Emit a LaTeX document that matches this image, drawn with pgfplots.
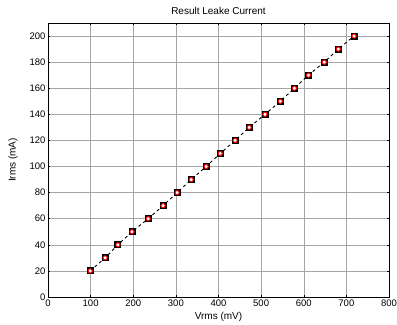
\documentclass[border=0pt]{standalone}
\usepackage{pgfplots}
\pgfplotsset{compat=1.18}
\usepackage{fontspec}
\setmainfont{Liberation Sans}
\begin{document}
\begin{tikzpicture}
\pgfplotstableread{
x y
99 20
134 30
164 40
197 50
235 60
270 70
303 80
336 90
371 100
404 110
439 120
472 130
509 140
545 150
578 160
611 170
648 180
681 190
718 200
}\datatable
\begin{axis}[
  scale only axis,
  width=341bp, height=274bp,
  xmin=0, xmax=800, ymin=0, ymax=210,
  xtick={0,100,...,800}, ytick={0,20,...,200},
  grid=major,
  major grid style={gray!70, line width=0.5pt},
  tick align=inside,
  tick pos=both,
  major tick length=2bp,
  axis line style={black, line width=0.8pt},
  tick style={black, line width=0.5pt},
  /pgf/number format/assume math mode=true,
  tick label style={font=\fontsize{9.5bp}{11bp}\selectfont},
  label style={font=\fontsize{10bp}{12bp}\selectfont},
  title style={font=\fontsize{10bp}{12bp}\selectfont, yshift=-1bp},
  xticklabel style={yshift=1bp},
  yticklabel style={xshift=1bp},
  title={Result Leake Current},
  xlabel={Vrms (mV)},
  ylabel={Irms (mA)},
  xlabel style={yshift=1bp},
  ylabel style={yshift=5bp},
]
\addplot[black, dashed, line width=0.9pt, mark=square*, mark size=3bp, mark options={solid, fill=black, draw=black}] table[x=x,y=y]{\datatable};
\addplot[only marks, mark=*, mark size=2.1bp, mark options={fill=white, draw=red, line width=1pt}] table[x=x,y=y]{\datatable};
\end{axis}
\pgfresetboundingbox
\path (current axis.south west) ++(-48bp,-27bp) coordinate (bl);
\path (current axis.north east) ++(8bp,23bp) coordinate (tr);
\path[use as bounding box] (bl) rectangle (tr);
\end{tikzpicture}
\end{document}
